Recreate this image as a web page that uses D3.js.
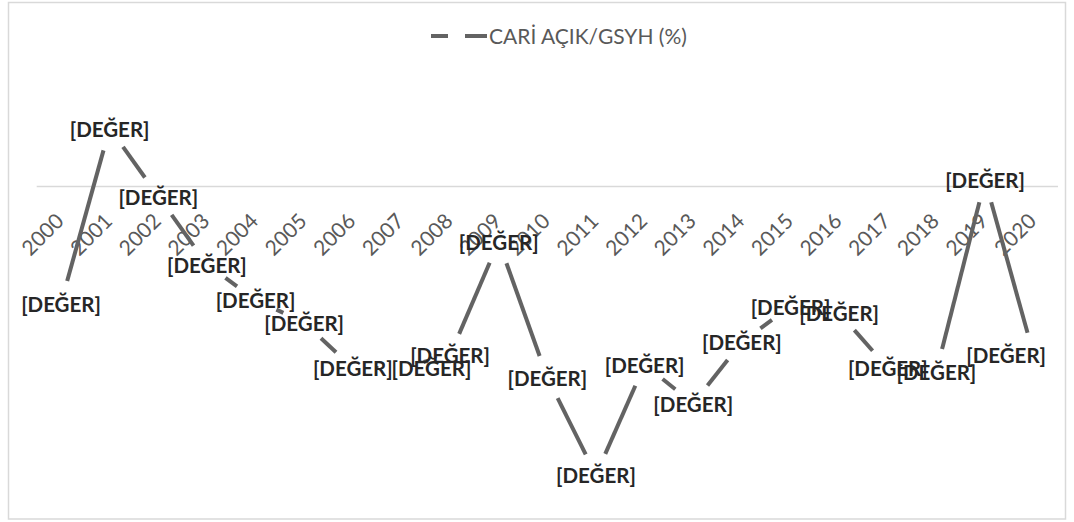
<!doctype html>
<html>
<head>
<meta charset="UTF-8">
<script src="https://d3js.org/d3.v7.min.js"></script>
<style>
	body { margin: 0; background: #fff; }
	text { font-family: Lato, "Open Sans", sans-serif; }
</style>
</head>
<body>
	<svg id="chartWrapper"></svg>

	<script>
		// yillar ve cari acik / GSYH (%) degerleri
		let years = ["2000", "2001", "2002", "2003", "2004", "2005", "2006", "2007", "2008", "2009", "2010",
		             "2011", "2012", "2013", "2014", "2015", "2016", "2017", "2018", "2019", "2020"];
		let cariAcik = [-3.6, 1.8, -0.3, -2.4, -3.5, -4.2, -5.6, -5.6, -5.2, -1.7, -5.9,
		                -8.9, -5.5, -6.7, -4.8, -3.7, -3.9, -5.6, -5.7, 0.2, -5.2];
		let seriesName = "CARİ AÇIK/GSYH (%)";
		let labelText = "[DEĞER]";

		(function(){

			let W = 1074, H = 522;
			let plot = {left: 36.7, right: 1058, zeroY: 186.5};

			let svg = d3.select("#chartWrapper")
			            .attr("width", W)
			            .attr("height", H);

			// chart area border
			svg.append("rect")
			     .attr("x", 8.5)
			     .attr("y", 2.5)
			     .attr("width", 1057)
			     .attr("height", 516.5)
			     .attr("fill", "#fff")
			     .attr("stroke", "#d9d9d9")
			     .attr("stroke-width", 1.5);

			let xSca = d3.scaleBand()
			             .domain(years)
			             .range([plot.left, plot.right])
			             .padding(0);

			let ySca = d3.scaleLinear()
			             .domain([-10, 4])
			             .range([plot.zeroY + 32.4 * 10, plot.zeroY - 32.4 * 4]);

			let cx = function(d){ return xSca(d) + xSca.bandwidth() / 2; };

			// zero gridline (horizontal axis)
			svg.append("line")
			     .attr("x1", plot.left)
			     .attr("x2", plot.right)
			     .attr("y1", ySca(0))
			     .attr("y2", ySca(0))
			     .attr("stroke", "#d9d9d9")
			     .attr("stroke-width", 1.6);

			// category labels, rotated (axis already centres ticks in each band)
			let xAxis = d3.axisBottom(xSca).tickSize(0).tickPadding(0);
			let axisG = svg.append("g")
			               .attr("transform", "translate(0," + ySca(0) + ")")
			               .call(xAxis);
			axisG.select(".domain").remove();
			axisG.selectAll(".tick text")
			       .attr("x", 0)
			       .attr("y", 0)
			       .attr("dy", 0)
			       .attr("transform", "translate(4,36) rotate(-45)")
			       .style("text-anchor", "end")
			       .style("font-family", "Lato, sans-serif")
			       .style("font-size", "21px")
			       .attr("fill", "#595959");

			// line, broken around each data point
			let pts = years.map(function(d, i){ return [cx(d), ySca(cariAcik[i])]; });
			let gap = 23;
			svg.selectAll(".seg")
			     .data(d3.pairs(pts).filter(function(p){
			         return Math.hypot(p[1][0] - p[0][0], p[1][1] - p[0][1]) > 2 * gap;
			     }))
			   .enter().append("line")
			     .attr("class", "seg")
			     .each(function(p){
			         let dx = p[1][0] - p[0][0], dy = p[1][1] - p[0][1];
			         let len = Math.hypot(dx, dy);
			         let ux = dx / len, uy = dy / len;
			         d3.select(this)
			           .attr("x1", p[0][0] + ux * gap)
			           .attr("y1", p[0][1] + uy * gap)
			           .attr("x2", p[1][0] - ux * gap)
			           .attr("y2", p[1][1] - uy * gap);
			     })
			     .attr("stroke", "#636363")
			     .attr("stroke-width", 4);

			// legend
			svg.append("line")
			     .attr("x1", 431)
			     .attr("x2", 487)
			     .attr("y1", 36)
			     .attr("y2", 36)
			     .attr("stroke", "#636363")
			     .attr("stroke-width", 4)
			     .attr("stroke-dasharray", "17,17,22");
			svg.append("text")
			     .attr("x", 489)
			     .attr("y", 44)
			     .style("font-size", "21px")
			     .attr("fill", "#595959")
			     .text(seriesName);

			// data labels
			let labelShift = {"2007": 30};
			let maxRight = 1046;
			svg.selectAll(".lbl")
			     .data(years)
			   .enter().append("text")
			     .attr("class", "lbl")
			     .attr("y", function(d, i){ return ySca(cariAcik[i]) + 1; })
			     .attr("dy", "0.36em")
			     .style("font-size", "20.5px")
			     .style("font-weight", "bold")
			     .attr("fill", "#262626")
			     .text(labelText)
			     .each(function(d){
			         let w = this.getComputedTextLength();
			         let x = cx(d) + (labelShift[d] || 0);
			         x = Math.min(x, maxRight - w / 2);
			         d3.select(this).attr("x", x - w / 2);
			     });

		})();
	</script>
</body>
</html>
